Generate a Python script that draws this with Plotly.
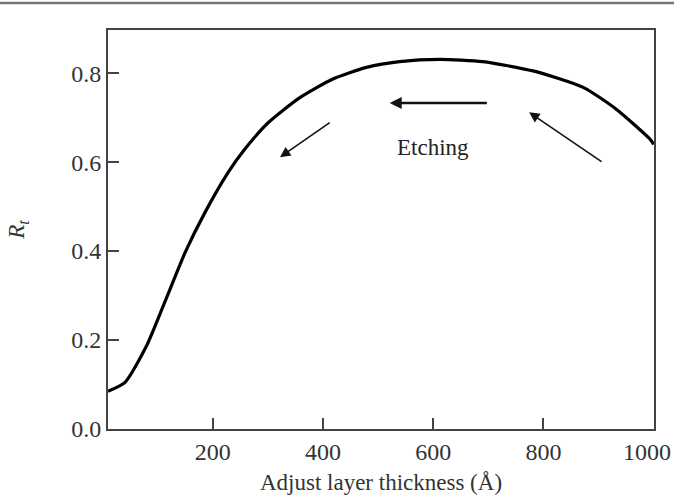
import plotly.graph_objects as go

# Data
thickness = [10, 41, 80, 113, 150, 186, 228, 258, 300, 358, 418, 479, 539, 612, 690, 781, 872, 932, 993, 1000]
rt = [0.085, 0.105, 0.187, 0.285, 0.397, 0.487, 0.577, 0.629, 0.688, 0.745, 0.787, 0.813, 0.826, 0.831, 0.826, 0.805, 0.768, 0.719, 0.652, 0.640]

x_ticks = [200, 400, 600, 800, 1000]
y_ticks = [0.0, 0.2, 0.4, 0.6, 0.8]

# arrows: (tail_x, tail_y, head_x, head_y, width)
arrows = [
    (415, 0.691, 322, 0.611, 1.6),
    (700, 0.733, 521, 0.733, 2.4),
    (908, 0.599, 774, 0.712, 1.6),
]
label_text = "Etching"
label_pos = (600, 0.633)

FONT = "Liberation Serif, Times New Roman, serif"
AX = "#444444"
TXT = "#333333"

fig = go.Figure()
fig.add_trace(go.Scatter(x=thickness, y=rt, mode="lines",
                         line=dict(color="black", width=3.2, shape="spline", smoothing=0.6),
                         showlegend=False, hoverinfo="skip"))

for tx, ty, hx, hy, w in arrows:
    fig.add_annotation(x=hx, y=hy, ax=tx, ay=ty, xref="x", yref="y", axref="x", ayref="y",
                       showarrow=True, arrowhead=2, arrowsize=1.3 if w < 2 else 1.0,
                       arrowwidth=w, arrowcolor="#111111", text="")

fig.add_annotation(x=label_pos[0], y=label_pos[1], xref="x", yref="y", text=label_text,
                   showarrow=False, font=dict(family=FONT, size=23, color="#222222"))

# last x tick label sits slightly left of its tick in the reference (kept inside the page)
tick_text = [str(v) for v in x_ticks]
fig.add_annotation(x=x_ticks[-1], y=0, xref="x", yref="paper", text=tick_text[-1],
                   showarrow=False, yanchor="middle", xanchor="center", xshift=-7, yshift=-23,
                   font=dict(family=FONT, size=24, color=TXT))
tick_text_axis = tick_text[:-1] + [""]

# journal header rule at the top of the page
fig.add_shape(type="line", xref="paper", yref="paper", x0=-0.25, x1=1.1, y0=1.0677, y1=1.0677,
              line=dict(color="#777777", width=2.5))

fig.update_layout(
    width=674, height=495,
    margin=dict(l=108, r=20, t=30, b=66),
    paper_bgcolor="white", plot_bgcolor="white",
    font=dict(family=FONT, size=24, color=TXT),
    xaxis=dict(range=[10, 1000.5], tickvals=x_ticks, ticktext=tick_text_axis,
               ticks="inside", ticklen=11, tickwidth=2, tickcolor=AX,
               automargin=False,
               showline=True, linecolor=AX, linewidth=2, mirror=True,
               showgrid=False, zeroline=False,
               title=dict(text="Adjust layer thickness (Å)", standoff=14,
                          font=dict(family=FONT, size=23, color=TXT))),
    yaxis=dict(range=[0, 0.897], tickvals=y_ticks, ticktext=[f"{v:.1f}" for v in y_ticks],
               ticks="inside", ticklen=11, tickwidth=2, tickcolor=AX,
               automargin=False,
               showline=True, linecolor=AX, linewidth=2, mirror=True,
               showgrid=False, zeroline=False,
               title=dict(text="<i>R</i><sub><i>t</i></sub>", standoff=40,
                          font=dict(family=FONT, size=23, color=TXT))),
)

fig.write_html("out.html")
